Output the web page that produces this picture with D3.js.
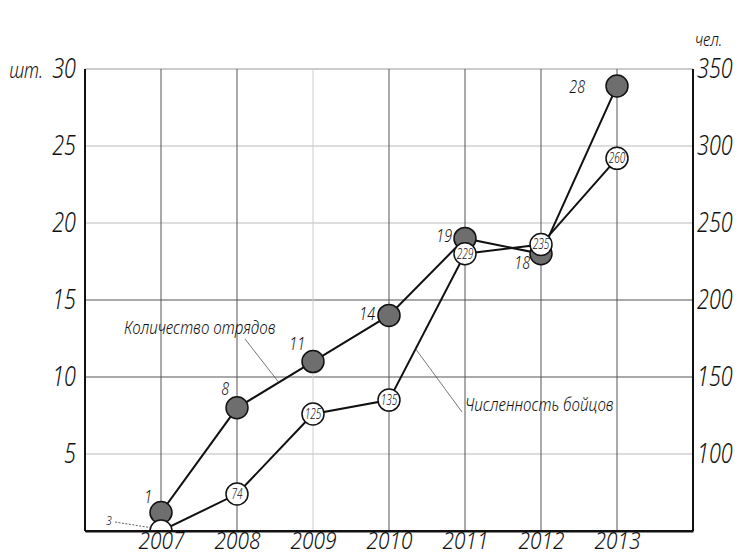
<!DOCTYPE html>
<html>
<head>
<meta charset="utf-8">
<script src="https://cdn.jsdelivr.net/npm/d3@7/dist/d3.min.js"></script>
<style>
  body { margin:0; background:#fff; }
  text { font-family:"Noto Sans",sans-serif; font-style:italic; font-weight:300; fill:#111; }
</style>
</head>
<body>
<div id="chart"></div>
<script>
// data
const years = [2007, 2008, 2009, 2010, 2011, 2012, 2013];
const squads = [1.2, 8, 11, 14, 19, 18, 28.9];          // plotted on left axis
const squadLabels = ['1', '8', '11', '14', '19', '18', '28'];
const fighters = [50, 74, 126, 135, 230, 236, 292];    // plotted on right axis
const fighterLabels = ['3', '74', '125', '135', '229', '235', '260'];
const leftTicks = [5, 10, 15, 20, 25, 30];
const rightTicks = [100, 150, 200, 250, 300, 350];

const W = 740, H = 556;
const margin = {'top':69,'right':47,'bottom':25,'left':85};
const width = W - margin.left - margin.right;
const height = H - margin.top - margin.bottom;

const root = d3.select('#chart').append('svg')
  .attr('width', W).attr('height', H);
root.append('defs').append('clipPath').attr('id', 'plotclip')
  .append('rect').attr('x', -20).attr('y', -20).attr('width', width + 40).attr('height', height + 20);
const svg = root.append('g')
  .attr('transform', `translate(${margin.left},${margin.top})`);

const x = d3.scaleLinear().domain([2006, 2014]).range([0, width]);
const yL = d3.scaleLinear().domain([0, 30]).range([height, 0]);
const yR = d3.scaleLinear().domain([50, 350]).range([height, 0]);

// squeeze text horizontally (drafting-style narrow font)
function condense(sel, sx) {
  sel.each(function() {
    const t = d3.select(this);
    const tx = +t.attr('x') || 0, ty = +t.attr('y') || 0;
    t.attr('x', 0).attr('y', 0).attr('transform', `translate(${tx},${ty}) scale(${sx},1)`);
  });
}

// grid
const lightH = [5, 20, 25];
svg.selectAll('.hgrid').data(leftTicks).enter().append('line')
  .attr('x1', 0).attr('x2', width)
  .attr('y1', d => yL(d)).attr('y2', d => yL(d))
  .attr('stroke', d => d == 30 ? '#999' : (lightH.includes(d) ? '#bbb' : '#555'))
  .attr('stroke-width', 1);
svg.selectAll('.vgrid').data(years).enter().append('line')
  .attr('x1', d => x(d)).attr('x2', d => x(d))
  .attr('y1', 0).attr('y2', height)
  .attr('stroke', d => d == 2009 ? '#ccc' : '#555')
  .attr('stroke-width', 1);

// axes
const axL = svg.append('g').call(d3.axisLeft(yL).tickValues(leftTicks).tickSize(0).tickPadding(9));
const axR = svg.append('g').attr('transform', `translate(${width},0)`)
  .call(d3.axisRight(yR).tickValues(rightTicks).tickSize(0).tickPadding(4));
const axB = svg.append('g').attr('transform', `translate(0,${height})`)
  .call(d3.axisBottom(x).tickValues(years).tickFormat(d3.format('d')).tickSize(0).tickPadding(0));
[axL, axR].forEach(a => {
  a.selectAll('text').style('font-size', '27px');
});
[axL, axR, axB].forEach(a => {
  a.select('.domain').attr('stroke', '#111').attr('stroke-width', 2);
  a.selectAll('text').style('font-family', null).attr('fill', '#111');
});
axB.selectAll('text').style('font-size', '24px').attr('y', 0).attr('dy', 18);
axL.select('.domain').attr('d', `M0,0V${height}`);
axR.select('.domain').attr('d', `M0,0V${height}`);
[axL, axR].forEach(a => condense(a.selectAll('text'), 0.8));
condense(axB.selectAll('text'), 0.87);

condense(svg.append('text').attr('x', -42).attr('y', yL(30) + 1).attr('dy', '0.35em')
  .attr('text-anchor', 'end').style('font-size', '22px').text('шт.'), 0.8);
condense(svg.append('text').attr('x', width + 2).attr('y', -30).attr('dy', '0.35em')
  .style('font-size', '19px').text('чел.'), 0.8);

const plot = svg.append('g').attr('clip-path', 'url(#plotclip)');

// lines
const lineL = d3.line().x((d, i) => x(years[i])).y(d => yL(d));
const lineR = d3.line().x((d, i) => x(years[i])).y(d => yR(d));
plot.append('path').datum(squads).attr('d', lineL)
  .attr('fill', 'none').attr('stroke', '#111').attr('stroke-width', 2);
plot.append('path').datum(fighters).attr('d', lineR)
  .attr('fill', 'none').attr('stroke', '#111').attr('stroke-width', 2);

// dark points
plot.selectAll('.sq').data(squads).enter().append('circle')
  .attr('cx', (d, i) => x(years[i])).attr('cy', d => yL(d)).attr('r', 11)
  .attr('fill', '#6e6e6e').attr('stroke', '#111').attr('stroke-width', 1.5);

// label placement around dark points: [dx, dy]
const sqOff = [[-9, -16], [-8, -19], [-8, -18], [-14, -2], [-13, -3], [-11, 9], [-32, 0]];
condense(svg.selectAll('.sqlab').data(squadLabels).enter().append('text')
  .attr('x', (d, i) => x(years[i]) + sqOff[i][0])
  .attr('y', (d, i) => yL(squads[i]) + sqOff[i][1])
  .attr('dy', '0.35em').attr('text-anchor', 'end')
  .style('font-size', '19px').text(d => d), 0.75);

// white points
plot.selectAll('.fi').data(fighters).enter().append('circle')
  .attr('cx', (d, i) => x(years[i])).attr('cy', d => yR(d)).attr('r', 11)
  .attr('fill', '#fff').attr('stroke', '#111').attr('stroke-width', 1.5);
condense(svg.selectAll('.filab').data(fighterLabels.slice(1)).enter().append('text')
  .attr('x', (d, i) => x(years[i + 1]))
  .attr('y', (d, i) => yR(fighters[i + 1]))
  .attr('dy', '0.35em').attr('text-anchor', 'middle')
  .style('font-size', '14px').text(d => d), 0.72);

// "3" label with dashed leader
condense(svg.append('text').attr('x', x(2007) - 55).attr('y', yR(fighters[0]) - 11)
  .attr('dy', '0.35em').style('font-size', '13px').text(fighterLabels[0]), 0.8);
svg.append('line')
  .attr('x1', x(2007) - 46).attr('y1', yR(fighters[0]) - 9)
  .attr('x2', x(2007) - 8).attr('y2', yR(fighters[0]) - 3)
  .attr('stroke', '#333').attr('stroke-width', 0.8).attr('stroke-dasharray', '2,1.5');

// redraw bottom axis line over clipped points
svg.append('line').attr('x1', 0).attr('x2', width).attr('y1', height).attr('y2', height)
  .attr('stroke', '#111').attr('stroke-width', 2);

// annotations
function annotate(label, tx, ty, lx1, ly1, px, py) {
  condense(svg.append('text').attr('x', tx).attr('y', ty).attr('dy', '0.35em')
    .style('font-size', '18px').text(label), 0.85);
  svg.append('line').attr('x1', lx1).attr('y1', ly1).attr('x2', px).attr('y2', py)
    .attr('stroke', '#555').attr('stroke-width', 0.8);
}
// leader ends on the segments between points
const midL = t => [x(2008) + t * (x(2009) - x(2008)), yL(squads[1]) + t * (yL(squads[2]) - yL(squads[1]))];
const midR = t => [x(2010) + t * (x(2011) - x(2010)), yR(fighters[3]) + t * (yR(fighters[4]) - yR(fighters[3]))];
const pL = midL(0.55), pR = midR(0.35);
annotate('Количество отрядов', 124 - margin.left, 328 - margin.top, 245 - margin.left, 339 - margin.top, pL[0], pL[1]);
annotate('Численность бойцов', 465 - margin.left, 405 - margin.top, 462 - margin.left, 412 - margin.top, pR[0], pR[1]);
</script>
</body>
</html>
